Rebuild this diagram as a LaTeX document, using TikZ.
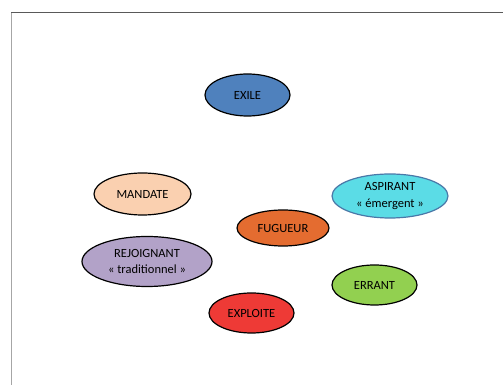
\documentclass[tikz,border=0pt]{standalone}
\usepackage{fontspec}
\setmainfont{Carlito}
\usetikzlibrary{shapes.geometric}
\definecolor{cexile}{HTML}{4F81BD}
\definecolor{cmandate}{HTML}{FAD0B0}
\definecolor{crejoin}{HTML}{B2A2C8}
\definecolor{cfugue}{HTML}{E46C30}
\definecolor{caspire}{HTML}{5BDCE6}
\definecolor{caspireb}{HTML}{4A78A8}
\definecolor{cerrant}{HTML}{92D050}
\definecolor{cexploit}{HTML}{EE3A36}
\tikzset{
  role/.style={ellipse, draw=black, line width=1.2pt, inner sep=0pt, align=center,
    font=\fontsize{12.5}{16.5}\selectfont, text=black},
}
\begin{document}
\begin{tikzpicture}[x=1pt,y=1pt]
\useasboundingbox (0,0) rectangle (503,385);
\fill[white] (0,0) rectangle (503,385);
\coordinate (tl) at (11,372);
\coordinate (tr) at (503,372);
\coordinate (bl) at (11,0);
\draw[line width=1pt, black!65] (tl) -- (tr);
\draw[line width=1pt, black!35] (tl) -- (bl);
\node[role, fill=cexile, minimum width=85pt, minimum height=42pt] (exile) at (247.5,290) {EXILE};
\node[role, fill=cmandate, minimum width=97pt, minimum height=42pt] (mandate) at (142.5,191) {MANDATE};
\node[role, fill=crejoin, minimum width=130pt, minimum height=50pt] (rejoignant) at (147,123.5) {REJOIGNANT\\« traditionnel »};
\node[role, fill=cfugue, minimum width=92pt, minimum height=36pt] (fugueur) at (283,157) {FUGUEUR};
\node[role, fill=caspire, draw=caspireb, minimum width=116pt, minimum height=44pt] (aspirant) at (390,189) {ASPIRANT\\« émergent »};
\node[role, fill=cerrant, minimum width=85pt, minimum height=40pt] (errant) at (374.5,100) {ERRANT};
\node[role, fill=cexploit, minimum width=85pt, minimum height=40pt] (exploite) at (251.5,72) {EXPLOITE};
\end{tikzpicture}
\end{document}
